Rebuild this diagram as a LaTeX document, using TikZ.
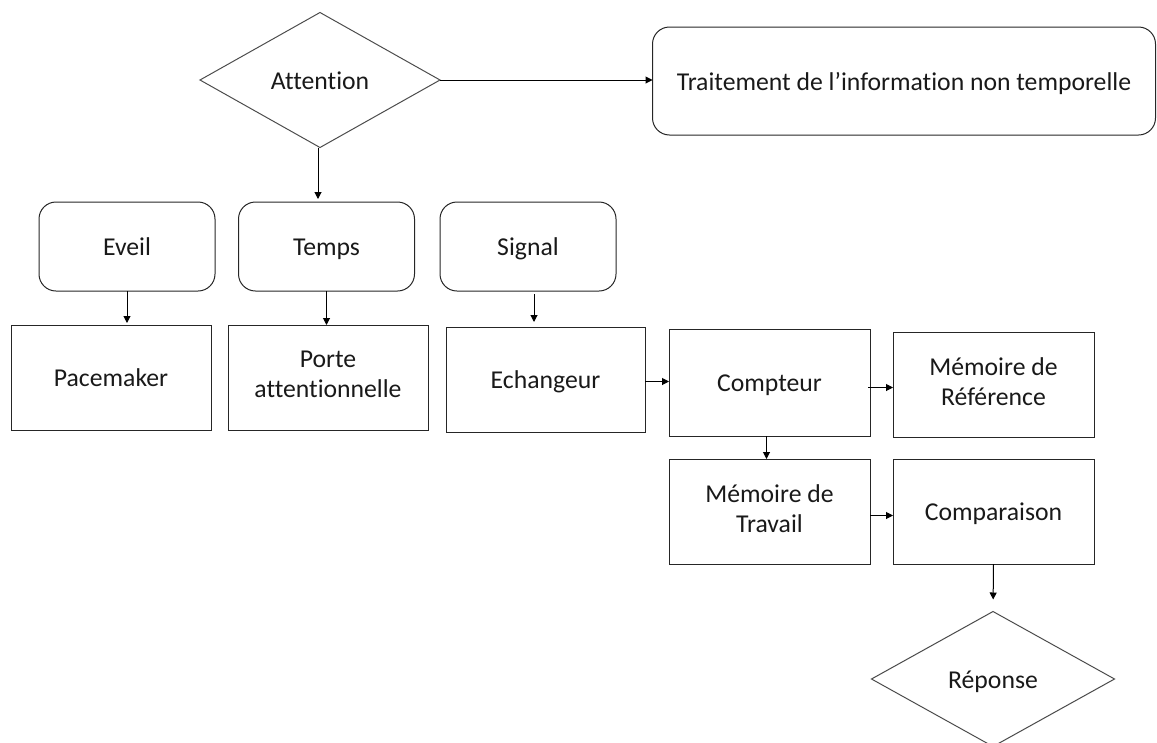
\documentclass[tikz,border=0pt]{standalone}
\usepackage{fontspec}
\setmainfont[Ligatures={NoCommon}]{Carlito}
\usetikzlibrary{shapes.geometric,arrows.meta}
\newcommand{\mystrut}{\rule[-6pt]{0pt}{30pt}}
\begin{document}
\begin{tikzpicture}[x=1pt,y=-1pt,
  every node/.style={font=\fontsize{25.7}{30}\selectfont, align=center, inner sep=0pt, outer sep=0pt, text=black!90,
    execute at begin node={\mystrut}, execute at end node={\mystrut}},
  box/.style={draw=black!85, line width=1pt, minimum width=201pt, minimum height=105pt},
  rbox/.style={draw=black!85, line width=1pt, rounded corners=17pt, minimum width=176pt, minimum height=89pt},
  dia/.style={diamond, draw=black!70, line width=1pt, aspect=1.78},
  arr/.style={-{Triangle[length=7pt,width=7pt]}, line width=1pt, black}]
\useasboundingbox (0,0) rectangle (1157,742);
\clip (0,0) rectangle (1157,742);
% top row
\node[dia, minimum width=240pt, minimum height=135pt] (att) at (320,80) {Attention};
\node[draw=black!85, line width=1pt, rounded corners=17pt, minimum width=503pt, minimum height=108pt] (trait) at (904,81) {Traitement de l’information non temporelle};
% rounded boxes
\node[rbox] (eveil) at (127,246.5) {Eveil};
\node[rbox] (temps) at (326.5,246.5) {Temps};
\node[rbox] (signal) at (528,246.5) {Signal};
% rectangles
\node[box, minimum width=200pt] (pace) at (111,377.5) {Pacemaker};
\node[box, minimum width=200pt] (porte) at (328,377.5) {Porte\\attentionnelle};
\node[box, minimum width=199pt] (echang) at (545.5,379.5) {Echangeur};
\node[box, minimum height=107pt] (compt) at (769.5,382.5) {Compteur};
\node[box] (mdr) at (993.5,384.5) {Mémoire de\\Référence};
\node[box] (mdt) at (769.5,511.5) {Mémoire de\\Travail};
\node[box] (comp) at (993.5,511.5) {Comparaison};
\node[dia, minimum width=243pt, minimum height=135pt] (rep) at (993,679) {Réponse};
% connectors
\draw[arr] (att.east) -- (att.east -| trait.west);
\draw[arr, shorten >=3pt] ([xshift=-2pt]att.south) -- ([xshift=-2pt]att.south |- temps.north);
\draw[arr, shorten >=2pt] (eveil.south) -- (eveil.south |- pace.north);
\draw[arr] (temps.south) -- (temps.south |- porte.north);
\draw[arr, shorten >=5pt] ([xshift=6pt,yshift=-3pt]signal.south) -- ([xshift=6pt]signal.south |- echang.north);
\draw[arr] ([yshift=-2pt]echang.east) -- ([yshift=-2pt]echang.east -| compt.west);
\draw[arr] ([xshift=-2pt,yshift=-5pt]compt.east) -- ([yshift=-5pt]compt.east -| mdr.west);
\draw[arr] ([xshift=-3pt]compt.south) -- ([xshift=-3pt]compt.south |- mdt.north);
\draw[arr] ([yshift=-4pt]mdt.east) -- ([yshift=-4pt]mdt.east -| comp.west);
\draw[arr, shorten >=12pt] (comp.south) -- (rep.north);
\end{tikzpicture}
\end{document}
